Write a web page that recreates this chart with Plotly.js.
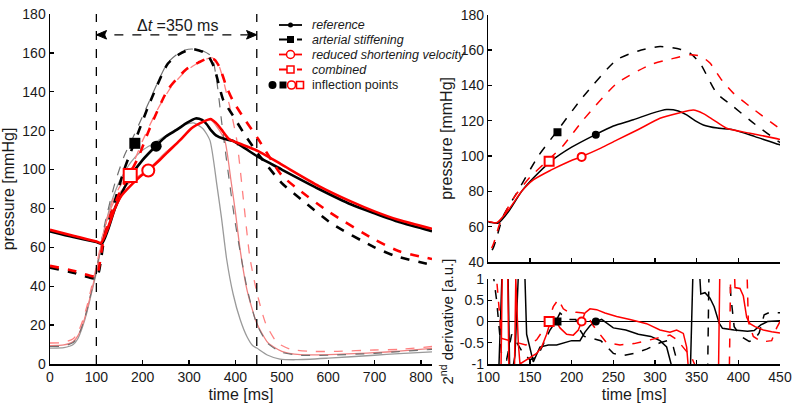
<!DOCTYPE html>
<html>
<head>
<meta charset="utf-8">
<script src="https://cdn.plot.ly/plotly-3.0.1.min.js"></script>
<style>
  html, body { margin: 0; padding: 0; background: #fff; }
  #chart { width: 800px; height: 412px; }
</style>
</head>
<body>
<div id="chart"></div>
<script>
// aortic pressure [mmHg] per case
const tAoRef = [0, 50, 100, 112, 125, 140, 154, 175, 200, 228, 250, 274, 295, 314, 328, 338, 348, 358, 375, 394, 420, 449, 500, 580, 650, 700, 753, 824];
const pAoRef = [68.2, 65.3, 62.7, 62, 69, 80, 87.5, 97, 105, 112, 117, 120.5, 124, 126.3, 125.5, 123.3, 120, 117.6, 115.8, 114.8, 111, 106.5, 100, 90, 82, 77.5, 73, 68.3];

const tAoAs = [0, 50, 100, 106, 118, 134, 160, 182, 214, 254, 280, 306, 330, 342, 354, 374, 394, 420, 449, 500, 540, 609, 700, 745, 824];
const pAoAs = [49.5, 47, 44, 48, 66, 79, 100, 113.8, 133.7, 154.4, 159.5, 162, 160.5, 158.2, 152.6, 135.6, 128, 118, 108, 93, 85, 72, 60, 55.5, 51];

const tAoRsv = [0, 50, 100, 110, 125, 140, 154, 175, 195, 212, 235, 254, 280, 306, 330, 346, 358, 370, 386, 414, 449, 500, 580, 650, 700, 753, 824];
const pAoRsv = [69, 66, 63, 62.2, 70, 80, 86.5, 92, 96.5, 99.7, 104.5, 109, 115, 121.4, 124.5, 126, 124, 120.5, 115.7, 112.9, 109.5, 102.5, 91.5, 83.5, 78.5, 74, 69.5];

const tAoComb = [0, 50, 100, 106, 114, 130, 150, 172, 190, 214, 254, 294, 320, 342, 355, 366, 380, 394, 414, 449, 500, 540, 600, 700, 753, 824];
const pAoComb = [50.5, 48, 45, 50, 62, 76, 88, 97.8, 106, 120.5, 141, 151.6, 155, 157.3, 156.5, 152.6, 143, 135.6, 128, 115.7, 97, 89, 78.5, 64, 58, 54];

// ventricular pressure [mmHg] per case (thin lines)
const tLvRef = [0, 30, 50, 60, 70, 80, 90, 100, 110, 120, 135, 150, 175, 200, 228, 260, 290, 310, 330, 345, 360, 370, 381, 395, 410, 425, 437, 446, 470, 496, 530, 600, 700, 753, 824];
const pLvRef = [8.2, 8.4, 10, 13, 19, 27, 37, 47, 60, 72, 85, 94, 104, 110, 114, 119, 123, 124, 121, 115, 92, 75, 54, 36, 23, 14, 9.5, 8.2, 4.5, 2.5, 2.2, 3, 4.5, 5.3, 6.2];

const tLvAs = [0, 30, 50, 60, 70, 80, 90, 100, 110, 120, 140, 160, 182, 214, 254, 285, 306, 330, 349, 360, 370, 378, 388, 398, 410, 425, 446, 470, 500, 540, 600, 700, 753, 824];
const pLvAs = [9, 9.3, 11, 14, 20, 28, 38, 48, 62, 74, 93, 107, 118, 135, 155, 161, 162, 161, 158, 145, 125, 110, 92, 75, 58, 39, 20.5, 10.5, 6, 4.5, 4.5, 5.5, 6.4, 7.5];

const tLvRsv = [0, 30, 50, 60, 70, 80, 90, 100, 110, 120, 135, 150, 175, 212, 250, 280, 306, 330, 346, 360, 377, 390, 400, 410, 425, 446, 470, 500, 540, 600, 700, 753, 824];
const pLvRsv = [9.5, 9.8, 11.5, 14.5, 20, 28, 38, 48, 61, 72, 82, 88, 94, 100, 109, 115, 121.5, 124.5, 125.5, 122, 115, 95, 78, 59, 38, 21, 11, 6.5, 4.8, 4.8, 5.8, 6.6, 8];

const tLvComb = [0, 30, 50, 60, 70, 80, 90, 100, 110, 120, 135, 150, 172, 200, 230, 260, 290, 320, 350, 365, 380, 392, 403, 417, 431, 446, 465, 490, 520, 560, 620, 700, 753, 824];
const pLvComb = [10.8, 11.1, 13, 16, 22, 30, 40, 50, 62, 72, 84, 91, 99, 115, 130, 142, 150, 155, 157.5, 153, 140, 128, 115, 85, 55, 37, 21, 11, 7.5, 6.5, 6.5, 7.2, 7.5, 9];

// inflection points: reference, arterial stiffening, reduced shortening velocity, combined
const inflT = [229, 183, 212, 173];
const inflP = [112, 113.5, 99.5, 97];

// 2nd derivative of aortic pressure [a.u.]
const tD2Ref = [100, 112, 118, 122, 126, 132, 138, 141, 146, 154, 162, 172, 182, 192, 200, 210, 216, 222, 228, 236, 250, 265, 280, 295, 306, 314, 322, 330, 340, 344, 348, 355, 360, 366, 371, 377, 381, 395, 411, 419, 427, 435, 450];
const d2Ref = [-3, -1.5, 2, 3, -1.5, -0.8, 2, 3, -0.3, -0.95, -0.6, -0.55, -0.55, -0.5, -0.45, -0.45, -0.25, -0.1, 0, 0.05, -0.15, -0.2, -0.3, -0.35, -0.45, -0.6, -1.2, -3, -3, 0, 3, 0.65, 0.68, 0.55, 0.35, -0.04, -0.16, -0.2, -0.23, -0.21, -0.08, 0, 0.02];

const tD2As = [100, 110, 116, 122, 128, 134, 142, 150, 156, 162, 168, 174, 181, 186, 192, 198, 205, 210, 215, 225, 235, 250, 262, 275, 290, 306, 315, 322, 330, 340, 362, 366, 386, 391, 395, 403, 413, 419, 425, 431, 437, 450];
const d2As = [2, 0.5, -0.8, -0.9, -0.3, -0.5, -0.75, -0.9, -0.85, -0.7, -0.45, -0.2, 0, 0.2, 0.1, 0.05, 0.05, -0.2, -0.35, -0.4, -0.45, -0.75, -0.8, -0.75, -0.65, -0.5, -0.45, -0.6, -1.2, -3, -3, 3, 3, 0.6, -0.12, -0.35, -0.47, -0.43, -0.27, 0.16, 0.21, 0.21];

const tD2Rsv = [100, 114, 118, 122, 126, 130, 133, 136, 138, 142, 150, 158, 164, 170, 176, 180, 186, 194, 202, 208, 212, 216, 222, 230, 240, 254, 270, 290, 306, 318, 326, 334, 338, 342, 348, 375, 379, 392, 396, 402, 406, 410, 414, 420, 430, 440, 450];
const d2Rsv = [-3, -3, 3, 3, -3, -3, 1, -0.5, -1, -0.95, -0.85, -0.75, -0.6, -0.3, 0.1, 0.05, -0.15, -0.3, -0.32, -0.2, 0, 0.2, 0.3, 0.28, 0.2, 0.12, 0.05, -0.05, -0.2, -0.25, -0.2, -0.28, -0.6, -1.2, -3, -3, 3, 3, 0.8, 0.78, 0.6, 0.1, -0.05, -0.12, -0.2, -0.24, -0.27];

const tD2Comb = [100, 110, 116, 125, 135, 145, 152, 158, 166, 172, 178, 184, 190, 198, 206, 214, 220, 226, 234, 242, 258, 275, 290, 305, 318, 326, 334, 344, 352, 360, 388, 392, 408, 412, 418, 428, 440, 446, 450];
const d2Comb = [3, 1, -0.4, -0.45, -0.5, -0.55, -0.5, -0.43, -0.2, 0, 0.35, 0.52, 0.3, 0.2, 0.22, 0.2, 0.1, -0.1, -0.3, -0.5, -0.55, -0.52, -0.45, -0.38, -0.32, -0.42, -0.6, -0.85, -1.2, -3, -3, 3, 3, 0, -0.35, -0.48, -0.45, -0.15, 0];

const legendRows = ['reference', 'arterial stiffening', 'reduced shortening velocity', 'combined', 'inflection points'];

// time window of the ejection marked on the left panel
const winStart = 100;
const winEnd = 446;

const RED = '#ff0000';
const FONT = 'Liberation Sans, Arial, Helvetica, sans-serif';

function line(x, y, xa, ya, color, width, dash) {
    return { x: x, y: y, xaxis: xa, yaxis: ya, type: 'scatter', mode: 'lines',
        line: { color: color, width: width, dash: dash || 'solid', shape: 'spline', smoothing: 0.6 },
        hoverinfo: 'skip', showlegend: false };
}

function marks(x, y, xa, ya, size) {
    return { x: x, y: y, xaxis: xa, yaxis: ya, type: 'scatter', mode: 'markers',
        marker: { symbol: ['circle', 'square', 'circle', 'square'], size: size, opacity: 1,
            color: ['#000', '#000', '#fff', '#fff'],
            line: { color: ['#000', '#000', RED, RED], width: [0, 0, 2, 2] } },
        hoverinfo: 'skip', showlegend: false };
}

const data = [];

// left panel: ventricular pressures (thin) then aortic pressures (thick)
data.push(line(tLvRef, pLvRef, 'x', 'y', '#9a9a9a', 1.3));
data.push(line(tLvRsv, pLvRsv, 'x', 'y', '#f08080', 1.3));
data.push(line(tLvAs, pLvAs, 'x', 'y', '#707070', 1.2, 'dash'));
data.push(line(tLvComb, pLvComb, 'x', 'y', '#ff8080', 1.3, 'dash'));
data.push(line(tAoRef, pAoRef, 'x', 'y', '#000', 2.6));
data.push(line(tAoAs, pAoAs, 'x', 'y', '#000', 2.6, 'dash'));
data.push(line(tAoRsv, pAoRsv, 'x', 'y', RED, 2.6));
data.push(line(tAoComb, pAoComb, 'x', 'y', RED, 2.6, 'dash'));
data.push(marks(inflT, inflP, 'x', 'y', [11, 11, 12, 13]));

// top right: zoom on aortic pressures
data.push(line(tAoRef, pAoRef, 'x2', 'y2', '#000', 1.5));
data.push(line(tAoAs, pAoAs, 'x2', 'y2', '#000', 1.5, 'dash'));
data.push(line(tAoRsv, pAoRsv, 'x2', 'y2', RED, 1.5));
data.push(line(tAoComb, pAoComb, 'x2', 'y2', RED, 1.5, 'dash'));
data.push(marks(inflT, inflP, 'x2', 'y2', [8, 8, 8, 9]));

// bottom right: 2nd derivative
const d2 = [[tD2Ref, d2Ref, '#000', 'solid'], [tD2As, d2As, '#000', 'dash'],
            [tD2Rsv, d2Rsv, RED, 'solid'], [tD2Comb, d2Comb, RED, 'dash']];
d2.forEach(function (s) {
    data.push({ x: s[0], y: s[1], xaxis: 'x3', yaxis: 'y3', type: 'scatter', mode: 'lines',
        line: { color: s[2], width: 1.5, dash: s[3] }, hoverinfo: 'skip', showlegend: false });
});
data.push(marks(inflT, inflT.map(function () { return 0; }), 'x3', 'y3', [8, 8, 8, 9]));

// hand made legend on a hidden pixel axis
const rowY = [25, 39.5, 54.5, 69.5, 85];
const legStyle = [['#000', 'solid', 'circle', '#000', 5], ['#000', 'dash', 'square', '#000', 7],
                  [RED, 'solid', 'circle', '#fff', 8], [RED, 'dash', 'square', '#fff', 7]];
legStyle.forEach(function (s, i) {
    data.push({ x: [279, 290.5, 302], y: [rowY[i], rowY[i], rowY[i]], xaxis: 'x4', yaxis: 'y4',
        type: 'scatter', mode: 'lines+markers', line: { color: s[0], width: 1.8, dash: s[1] },
        marker: { symbol: s[2], size: [0, s[4], 0], opacity: 1, color: s[3], line: { color: s[0], width: i > 1 ? 1.5 : 0 } },
        hoverinfo: 'skip', showlegend: false });
});
data.push({ x: [272.5, 283, 291.5, 300], y: [rowY[4], rowY[4], rowY[4], rowY[4]], xaxis: 'x4', yaxis: 'y4',
    type: 'scatter', mode: 'markers',
    marker: { symbol: ['circle', 'square', 'circle', 'square'], size: [8, 7, 8, 7], opacity: 1,
        color: ['#000', '#000', '#fff', '#fff'], line: { color: ['#000', '#000', RED, RED], width: [0, 0, 1.6, 1.6] } },
    hoverinfo: 'skip', showlegend: false });

const annotations = legendRows.map(function (txt, i) {
    return { x: 310, y: rowY[i], xref: 'x4', yref: 'y4', xanchor: 'left', yanchor: 'middle',
        text: i < 4 ? '<i>' + txt + '</i>' : txt, showarrow: false, font: { size: 12.5, color: '#1a1a1a' } };
});
annotations.push({ x: 274, y: 174, xref: 'x', yref: 'y', text: 'Δ<i>t</i> =350 ms', showarrow: false,
    font: { size: 16, color: '#1a1a1a' } });

// double arrow of the time window: dashed body, filled heads
const arrowY = 169.3;
const headLen = 22;   // ms
const headHalf = 2.2; // mmHg
const shapes = [
    { type: 'line', xref: 'x', yref: 'y', x0: winStart, x1: winStart, y0: 0, y1: 180, line: { color: '#000', width: 1.3, dash: 'dash' } },
    { type: 'line', xref: 'x', yref: 'y', x0: winEnd, x1: winEnd, y0: 0, y1: 180, line: { color: '#000', width: 1.3, dash: 'dash' } },
    { type: 'line', xref: 'x', yref: 'y', x0: winStart, x1: winEnd, y0: arrowY, y1: arrowY, line: { color: '#000', width: 1.3, dash: 'dash' } },
    { type: 'path', xref: 'x', yref: 'y', fillcolor: '#000', line: { color: '#000', width: 1 },
        path: 'M' + winStart + ',' + arrowY + ' L' + (winStart + headLen) + ',' + (arrowY + headHalf) +
              ' L' + (winStart + headLen * 0.8) + ',' + arrowY + ' L' + (winStart + headLen) + ',' + (arrowY - headHalf) + ' Z' },
    { type: 'path', xref: 'x', yref: 'y', fillcolor: '#000', line: { color: '#000', width: 1 },
        path: 'M' + winEnd + ',' + arrowY + ' L' + (winEnd - headLen) + ',' + (arrowY + headHalf) +
              ' L' + (winEnd - headLen * 0.8) + ',' + arrowY + ' L' + (winEnd - headLen) + ',' + (arrowY - headHalf) + ' Z' }
];

function axis(extra) {
    return Object.assign({ showgrid: false, zeroline: false, showline: true, linecolor: '#000', linewidth: 1.5,
        ticks: 'inside', ticklen: 4, tickwidth: 1.3, tickcolor: '#000',
        tickfont: { size: 14, color: '#1a1a1a' }, fixedrange: true }, extra);
}

const layout = {
    width: 800, height: 412,
    margin: { l: 50, r: 20, t: 14, b: 48 },
    paper_bgcolor: '#fff', plot_bgcolor: 'rgba(0,0,0,0)',
    font: { family: FONT, color: '#1a1a1a' },
    showlegend: false,
    xaxis: axis({ domain: [0, 0.5233], range: [0, 824], tickvals: [0, 100, 200, 300, 400, 500, 600, 700, 800],
        anchor: 'y', title: { text: 'time [ms]', font: { size: 16 }, standoff: 4 } }),
    yaxis: axis({ domain: [0, 1], range: [0, 180], dtick: 20, anchor: 'x',
        title: { text: 'pressure [mmHg]', font: { size: 16 }, standoff: 6 } }),
    xaxis2: axis({ domain: [0.6004, 1], range: [100, 450], dtick: 50, anchor: 'y2', showticklabels: false }),
    yaxis2: axis({ domain: [0.2914, 0.998], range: [40, 180], dtick: 20, anchor: 'x2',
        title: { text: 'pressure [mmHg]', font: { size: 16 }, standoff: 4 } }),
    xaxis3: axis({ domain: [0.6004, 1], range: [100, 450], dtick: 50, anchor: 'y3',
        title: { text: 'time [ms]', font: { size: 16 }, standoff: 4 } }),
    yaxis3: axis({ domain: [0, 0.2426], range: [-1, 1], tickvals: [-1, -0.5, 0, 0.5, 1], ticktext: ['-1', '-0.5', '0', '0.5', '1'],
        anchor: 'x3', zeroline: true, zerolinecolor: '#000', zerolinewidth: 1.5,
        title: { text: '2<sup>nd</sup> derivative [a.u.]', font: { size: 15 }, standoff: 2 } }),
    xaxis4: { domain: [0, 1], range: [50, 780], visible: false, anchor: 'y4', fixedrange: true },
    yaxis4: { domain: [0, 1], range: [364, 14], visible: false, anchor: 'x4', fixedrange: true },
    annotations: annotations,
    shapes: shapes
};

Plotly.newPlot('chart', data, layout, { staticPlot: true, displayModeBar: false });
</script>
</body>
</html>
